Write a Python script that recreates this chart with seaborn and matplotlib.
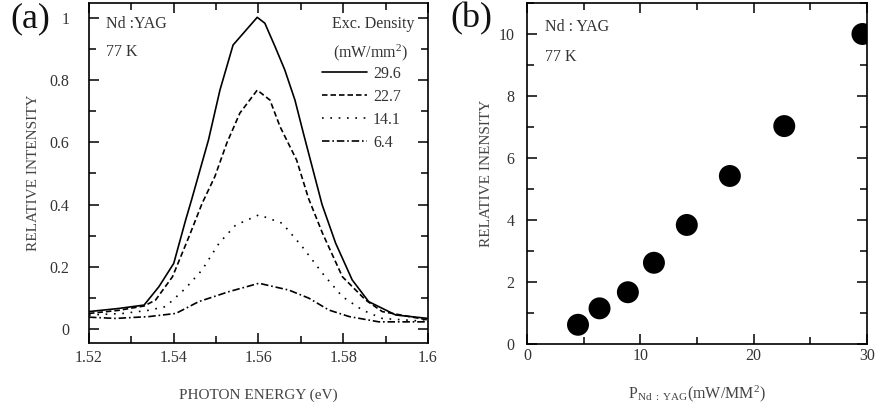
import numpy as np
import pandas as pd
import matplotlib
matplotlib.use('Agg')
import matplotlib.pyplot as plt
from matplotlib.ticker import MultipleLocator
import seaborn as sns

# (a) spectra, one curve per excitation density (mW/mm^2)
e_296 = [1.520, 1.527, 1.533, 1.5365, 1.540, 1.5428, 1.5442, 1.5482, 1.5509, 1.554, 1.5597,
         1.5615, 1.5639, 1.5662, 1.5686, 1.5706, 1.575, 1.5782, 1.5821, 1.586, 1.5924, 1.600]
i_296 = [0.056, 0.066, 0.077, 0.136, 0.211, 0.35, 0.415, 0.608, 0.768, 0.913, 1.002,
         0.983, 0.908, 0.833, 0.736, 0.629, 0.40, 0.276, 0.158, 0.088, 0.045, 0.034]

e_227 = [1.520, 1.527, 1.533, 1.5357, 1.5397, 1.5436, 1.5467, 1.5497, 1.5525, 1.5556, 1.5597,
         1.5627, 1.5651, 1.569, 1.5718, 1.5751, 1.5798, 1.5853, 1.5892, 1.600]
i_227 = [0.050, 0.060, 0.074, 0.093, 0.168, 0.297, 0.404, 0.49, 0.597, 0.694, 0.768,
         0.736, 0.65, 0.543, 0.42, 0.308, 0.168, 0.093, 0.056, 0.029]

e_141 = [1.520, 1.528, 1.534, 1.5381, 1.5428, 1.5467, 1.5507, 1.5546, 1.5601, 1.5656, 1.5703,
         1.5751, 1.5798, 1.5845, 1.5892, 1.600]
i_141 = [0.045, 0.05, 0.06, 0.072, 0.131, 0.19, 0.276, 0.334, 0.367, 0.34, 0.265,
         0.179, 0.104, 0.061, 0.034, 0.024]

e_64 = [1.520, 1.5263, 1.5342, 1.5405, 1.5459, 1.553, 1.5601, 1.5672, 1.5719, 1.5766, 1.5814,
        1.5884, 1.600]
i_64 = [0.038, 0.034, 0.04, 0.05, 0.088, 0.12, 0.147, 0.125, 0.099, 0.061, 0.04, 0.023, 0.023]

densities = ['29.6', '22.7', '14.1', '6.4']

# (b) integrated intensity vs pump density
p_yag = [4.5, 6.4, 8.9, 11.2, 14.1, 17.9, 22.7, 29.6]
rel_int = [0.62, 1.15, 1.67, 2.62, 3.84, 5.42, 7.03, 10.0]

spec = pd.concat([
    pd.DataFrame({'E': e_296, 'I': i_296, 'density': '29.6'}),
    pd.DataFrame({'E': e_227, 'I': i_227, 'density': '22.7'}),
    pd.DataFrame({'E': e_141, 'I': i_141, 'density': '14.1'}),
    pd.DataFrame({'E': e_64, 'I': i_64, 'density': '6.4'}),
])
pts = pd.DataFrame({'P': p_yag, 'I': rel_int})

sns.set_style('ticks')
plt.rcParams['font.family'] = ['Liberation Serif', 'DejaVu Serif']
plt.rcParams['mathtext.fontset'] = 'custom'
plt.rcParams['mathtext.rm'] = 'Liberation Serif'
plt.rcParams['mathtext.it'] = 'Liberation Serif:italic'
plt.rcParams['axes.linewidth'] = 1.2

fig = plt.figure(figsize=(8.75, 4.09), dpi=100)
ax1 = fig.add_axes([89 / 875, 1 - 343 / 409, 339 / 875, 340 / 409])
ax2 = fig.add_axes([527 / 875, 1 - 344 / 409, 340 / 875, 341 / 409])

txt = '#333333'
lab = '#444444'
fs = 11.5

# ---- panel (a)
dashes = {'29.6': '', '22.7': (3.3, 1.8), '14.1': (1, 4), '6.4': (4.5, 1.7, 1, 1.7)}
sns.lineplot(data=spec, x='E', y='I', style='density', style_order=densities,
             dashes=dashes, color='black', linewidth=1.2, ax=ax1)
ax1.set_xlim(1.52, 1.60)
ax1.set_ylim(-0.045, 1.048)
ax1.xaxis.set_minor_locator(MultipleLocator(0.01))
ax1.yaxis.set_minor_locator(MultipleLocator(0.1))
ax1.set_xticks([1.52, 1.54, 1.56, 1.58, 1.60])
ax1.set_xticklabels(['1.52', '1.54', '1.56', '1.58', '1.6'])
ax1.set_yticks([0, 0.2, 0.4, 0.6, 0.8, 1.0])
ax1.set_yticklabels(['0', '0.2', '0.4', '0.6', '0.8', '1'])
ax1.tick_params(axis='x', which='major', pad=5)
ax1.tick_params(axis='y', which='major', pad=14)
ax1.set_xlabel('PHOTON ENERGY (eV)', fontsize=11, color=lab, labelpad=16)
ax1.set_ylabel('RELATIVE INTENSITY', fontsize=11, color=lab, labelpad=7)

handles, labels = ax1.get_legend_handles_labels()
ax1.legend(handles, labels, loc='upper left', bbox_to_anchor=((322 - 89) / 339, (343 - 66) / 340),
           frameon=False, fontsize=fs, handlelength=2.8, handletextpad=0.4,
           labelspacing=0.43, borderpad=0, borderaxespad=0, labelcolor=txt)
ax1.text((373 - 89) / 339, (343 - 24) / 340, 'Exc. Density', transform=ax1.transAxes,
         ha='center', va='center', fontsize=fs, color=txt)
ax1.text((370 - 89) / 339, (343 - 53) / 340, '(mW/mm$^2$)', transform=ax1.transAxes,
         ha='center', va='center', fontsize=fs, color=txt)
ax1.text((106 - 89) / 339, (343 - 24) / 340, 'Nd :YAG', transform=ax1.transAxes,
         ha='left', va='center', fontsize=fs, color=txt)
ax1.text((106 - 89) / 339, (343 - 52) / 340, '77 K', transform=ax1.transAxes,
         ha='left', va='center', fontsize=fs, color=txt)

# ---- panel (b)
sns.scatterplot(data=pts, x='P', y='I', color='black', s=250, edgecolor='none', ax=ax2)
ax2.set_xlim(0, 30)
ax2.set_ylim(0, 11)
ax2.xaxis.set_major_locator(MultipleLocator(10))
ax2.xaxis.set_minor_locator(MultipleLocator(5))
ax2.yaxis.set_major_locator(MultipleLocator(2))
ax2.yaxis.set_minor_locator(MultipleLocator(1))
ax2.tick_params(axis='x', which='major', pad=3)
ax2.tick_params(axis='y', which='major', pad=9)
ax2.set_xlabel('P$_{\\mathrm{Nd\\ :\\ YAG}}$(mW/MM$^2$)', fontsize=11.5, color=lab, labelpad=14)
ax2.set_ylabel('RELATIVE INENSITY', fontsize=11, color=lab, labelpad=4)
ax2.text((545 - 527) / 340, (344 - 27) / 341, 'Nd : YAG', transform=ax2.transAxes,
         ha='left', va='center', fontsize=fs, color=txt)
ax2.text((545 - 527) / 340, (344 - 57) / 341, '77 K', transform=ax2.transAxes,
         ha='left', va='center', fontsize=fs, color=txt)

for ax in (ax1, ax2):
    for s in ax.spines.values():
        s.set_visible(True)
        s.set_color('black')
        s.set_linewidth(1.2)
    ax.tick_params(which='both', direction='in', top=True, right=True,
                   labelsize=11.5, labelcolor=txt, color='black', width=1.1)
    ax.tick_params(which='major', length=7)
    ax.tick_params(which='minor', length=5)

fig.text(10 / 875, 1 - 19 / 409, '(a)', fontsize=26, ha='left', va='center', color='#111111')
fig.text(450 / 875, 1 - 19 / 409, '(b)', fontsize=26, ha='left', va='center', color='#111111')

fig.savefig('out.png', dpi=100)
